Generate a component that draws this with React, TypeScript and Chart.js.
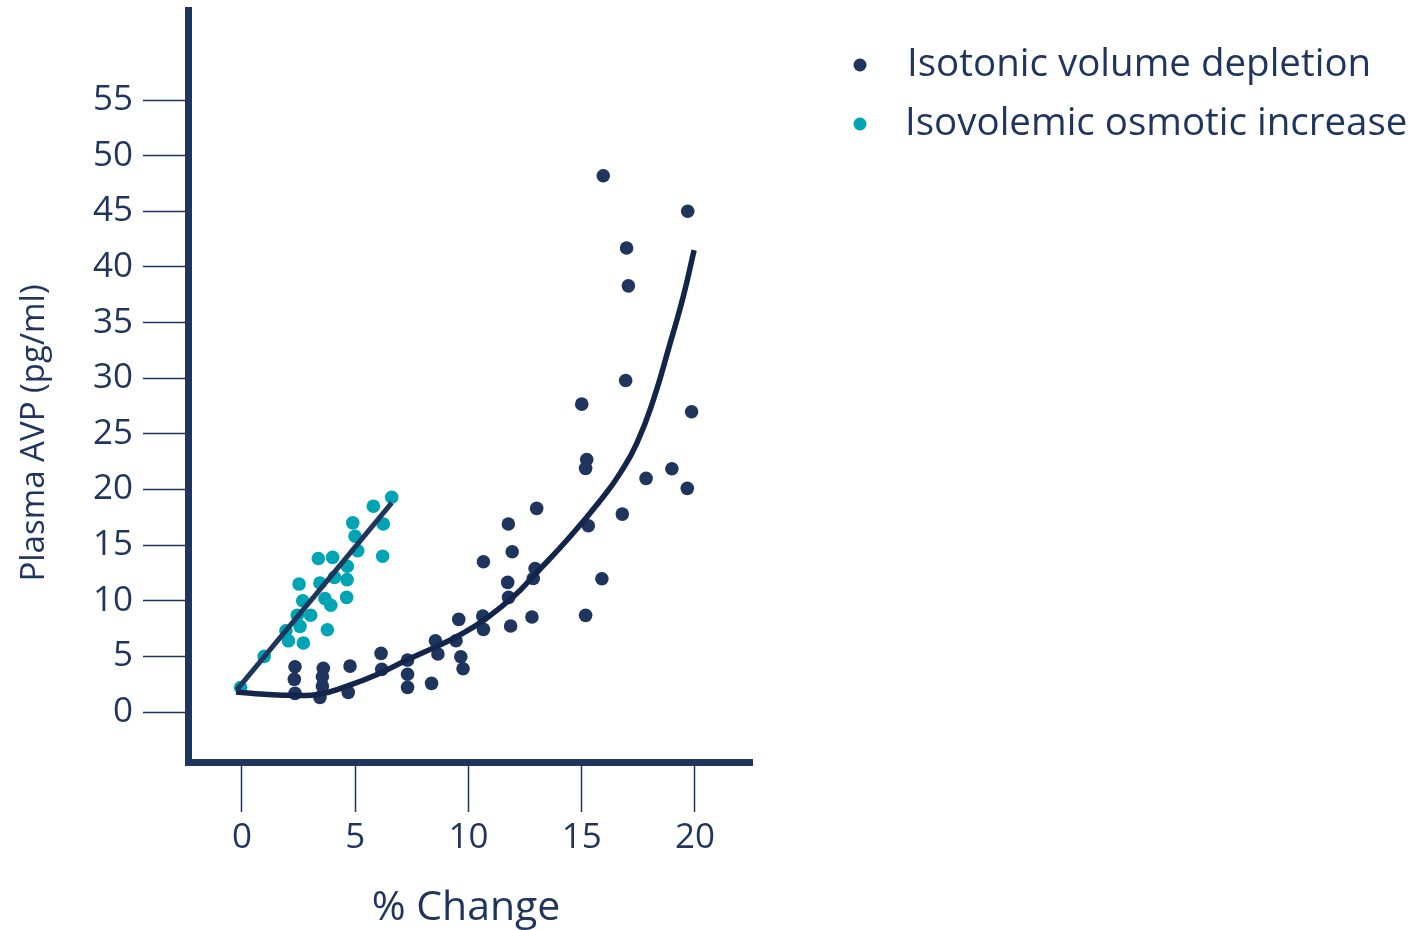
import React, { useEffect, useRef } from "react";
import { Chart, registerables } from "chart.js";

Chart.register(...registerables);

const FONT = "'Open Sans', 'Noto Sans', sans-serif";
const NAVY = "#1f355e";
const NAVY_LINE = "#13254a";
const TEAL = "#00a5b5";
const TEXT = "#1f355e";

const X_TITLE = "% Change";
const Y_TITLE = "Plasma AVP (pg/ml)";
const X_TICKS = [0, 5, 10, 15, 20];
const Y_TICKS = [0, 5, 10, 15, 20, 25, 30, 35, 40, 45, 50, 55];

const SERIES_DEPLETION = "Isotonic volume depletion";
const SERIES_OSMOTIC = "Isovolemic osmotic increase";

// Isotonic volume depletion points
const depletionX = [
  2.34, 2.31, 2.34, 3.59, 3.55, 3.55, 3.44, 4.77, 4.69, 6.14, 6.17, 7.31, 7.31, 7.31,
  8.37, 8.54, 8.65, 9.57, 9.45, 9.66, 9.76, 10.63, 10.66, 10.66, 11.73, 11.77, 11.86,
  11.76, 11.93, 12.8, 12.86, 12.94, 13.01, 15.0, 15.22, 15.17, 15.29, 15.17, 15.89,
  16.79, 17.84, 18.98, 19.66, 19.85, 16.94, 15.95, 19.68, 16.98, 17.06,
];
const depletionY = [
  4.07, 2.94, 1.68, 3.93, 3.17, 2.34, 1.32, 4.13, 1.77, 5.27, 3.83, 4.67, 3.39, 2.22,
  2.58, 6.41, 5.21, 8.33, 6.41, 4.97, 3.89, 8.63, 7.43, 13.5, 11.65, 10.3, 7.73,
  16.9, 14.4, 8.54, 12.0, 12.9, 18.3, 27.67, 22.7, 21.9, 16.74, 8.69, 11.98,
  17.79, 21.0, 21.86, 20.1, 26.98, 29.8, 48.2, 45.0, 41.7, 38.3,
];

// Isovolemic osmotic increase points
const osmoticX = [
  -0.06, 0.98, 1.94, 2.05, 2.71, 2.56, 2.44, 3.03, 2.68, 2.52, 3.44, 3.66, 3.92, 3.77,
  3.37, 4.0, 4.08, 4.64, 4.62, 4.65, 4.89, 4.99, 5.11, 5.8, 6.24, 6.21, 6.61,
];
const osmoticY = [
  2.2, 5.0, 7.3, 6.4, 6.2, 7.7, 8.7, 8.7, 10.0, 11.5, 11.6, 10.2, 9.6, 7.4,
  13.8, 13.9, 12.1, 11.9, 10.3, 13.1, 17.0, 15.8, 14.5, 18.5, 16.9, 14.0, 19.3,
];

// Fitted curves
const depletionFitX = [-0.26, 1.0, 2.3, 3.4, 4.6, 6.1, 7.3, 8.6, 9.6, 10.7, 12.0, 12.9, 14.48, 15.95, 16.69, 17.43, 18.16, 18.9, 19.48, 19.96];
const depletionFitY = [1.8, 1.6, 1.5, 1.6, 2.3, 3.5, 4.7, 5.9, 6.9, 8.3, 10.4, 12.3, 15.75, 19.35, 21.45, 24.15, 28.04, 33.13, 37.32, 41.52];
const osmoticFitX = [-0.23, 6.61];
const osmoticFitY = [2.0, 18.8];

const X_MIN = -2.384;
const X_MAX = 22.517;
const Y_MIN = -4.49;
const Y_MAX = 63.09;

const toPts = (xs: number[], ys: number[]) => xs.map((x, i) => ({ x, y: ys[i] }));

const decorPlugin = {
  id: "decor",
  afterDraw(chart: any) {
    const ctx = chart.ctx;
    ctx.save();
    ctx.fillStyle = TEXT;
    // y title
    ctx.save();
    ctx.font = `33px ${FONT}`;
    ctx.translate(35, 433);
    ctx.rotate(-Math.PI / 2);
    ctx.textAlign = "center";
    ctx.textBaseline = "middle";
    ctx.fillText(Y_TITLE, 0, 0);
    ctx.restore();
    // x title
    ctx.font = `41px ${FONT}`;
    ctx.textAlign = "center";
    ctx.textBaseline = "middle";
    ctx.fillText(X_TITLE, 466, 908);
    // legend
    const items = [
      { label: SERIES_DEPLETION, color: NAVY, y: 65, tx: 907 },
      { label: SERIES_OSMOTIC, color: TEAL, y: 124, tx: 905 },
    ];
    ctx.font = `38.5px ${FONT}`;
    ctx.textAlign = "left";
    for (const it of items) {
      ctx.fillStyle = it.color;
      ctx.beginPath();
      ctx.arc(860, it.y, 6.5, 0, Math.PI * 2);
      ctx.fill();
      ctx.fillStyle = TEXT;
      ctx.fillText(it.label, it.tx, it.y);
    }
    ctx.restore();
  },
};

export default function App() {
  const ref = useRef<HTMLCanvasElement | null>(null);

  useEffect(() => {
    if (!ref.current) return;
    const chart = new Chart(ref.current, {
      type: "scatter",
      data: {
        datasets: [
          {
            type: "line",
            label: "osmotic fit",
            data: toPts(osmoticFitX, osmoticFitY),
            borderColor: NAVY,
            borderWidth: 5,
            pointRadius: 0,
            fill: false,
            order: 0,
          } as any,
          {
            type: "line",
            label: "depletion fit",
            data: toPts(depletionFitX, depletionFitY),
            borderColor: NAVY_LINE,
            borderWidth: 5.5,
            pointRadius: 0,
            tension: 0.5,
            fill: false,
            order: 0,
          } as any,
          {
            label: SERIES_DEPLETION,
            data: toPts(depletionX, depletionY),
            backgroundColor: NAVY,
            borderWidth: 0,
            pointRadius: 6.8,
            order: 1,
          },
          {
            label: SERIES_OSMOTIC,
            data: toPts(osmoticX, osmoticY),
            backgroundColor: TEAL,
            borderWidth: 0,
            pointRadius: 6.8,
            order: 1,
          },
        ],
      },
      options: {
        responsive: false,
        animation: false,
        layout: { padding: { left: 0, top: 10, right: 665, bottom: 0 } },
        plugins: {
          legend: { display: false },
          tooltip: { enabled: false },
        },
        scales: {
          x: {
            type: "linear",
            min: X_MIN,
            max: X_MAX,
            afterBuildTicks: (axis: any) => {
              axis.ticks = X_TICKS.map((v) => ({ value: v }));
            },
            afterFit: (axis: any) => {
              axis.height = 168;
              axis.paddingLeft = 0;
              axis.paddingRight = 0;
            },
            grid: {
              drawOnChartArea: false,
              drawTicks: true,
              tickLength: 50,
              tickColor: NAVY,
              tickWidth: 1.5,
            },
            border: { display: true, color: NAVY, width: 7 },
            ticks: {
              color: TEXT,
              font: { family: FONT, size: 35 },
              padding: 5,
              maxRotation: 0,
            },
          },
          y: {
            type: "linear",
            min: Y_MIN,
            max: Y_MAX,
            afterBuildTicks: (axis: any) => {
              axis.ticks = Y_TICKS.map((v) => ({ value: v }));
            },
            afterFit: (axis: any) => {
              axis.width = 188;
              axis.paddingTop = 0;
              axis.paddingBottom = 0;
            },
            grid: {
              drawOnChartArea: false,
              drawTicks: true,
              tickLength: 45,
              tickColor: NAVY,
              tickWidth: 1.5,
            },
            border: { display: true, color: NAVY, width: 7 },
            ticks: {
              color: TEXT,
              font: { family: FONT, size: 35 },
              padding: 10,
            },
          },
        },
      },
      plugins: [decorPlugin],
    } as any);
    return () => chart.destroy();
  }, []);

  return (
    <div style={{ position: "fixed", left: 0, top: 0, width: 1417, height: 930, background: "#fff" }}>
      <canvas ref={ref} width={1417} height={930} />
    </div>
  );
}
